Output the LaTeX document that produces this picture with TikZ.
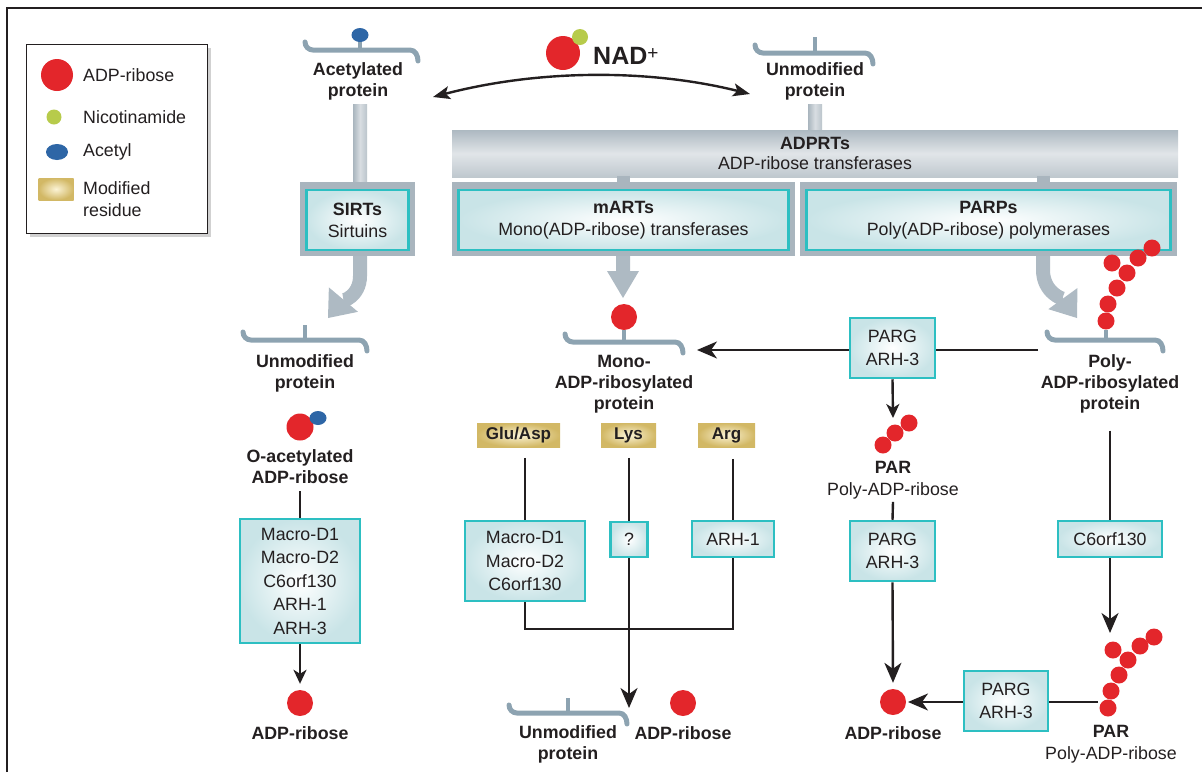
\documentclass[tikz,border=0pt]{standalone}
\usepackage{fontspec}
\setmainfont{Liberation Sans}
\usetikzlibrary{arrows.meta,shapes.geometric,calc}
\definecolor{adpred}{HTML}{E3262B}
\definecolor{nicgreen}{HTML}{B7CB4B}
\definecolor{acblue}{HTML}{2E66A6}
\definecolor{goldd}{HTML}{D2B865}
\definecolor{goldl}{HTML}{FBF3D5}
\definecolor{tealb}{HTML}{2DBFC2}
\definecolor{cyanf}{HTML}{C9E4E7}
\definecolor{framegrey}{HTML}{A9B5BE}
\definecolor{protgrey}{HTML}{8DA3B1}
\definecolor{arrgrey}{HTML}{AEBAC3}
\definecolor{ink}{HTML}{231F20}
\newcommand\protbr[5]{%
  \draw[prot] (#1,#3-8) to[out=-90,in=180] (#1+8,#3) -- (#2-8,#3) to[out=0,in=90] (#2,#3+11);
  \draw[prot,line cap=butt,line width=4pt] (#4,#3) -- (#4,#5);}
\begin{document}
\begin{tikzpicture}[x=1pt,y=-1pt,
  lab/.style={font=\fontsize{17.8}{21}\selectfont\bfseries, align=center, inner sep=0pt, text=ink},
  plain/.style={font=\fontsize{17.8}{21.5}\selectfont, align=center, inner sep=0pt, text=ink},
  enz/.style={draw=tealb, line width=2.5pt, inner color=white, outer color=cyanf, align=center,
              font=\fontsize{17.8}{23.5}\selectfont, inner sep=0pt, text=ink},
  fam/.style={enz, font=\fontsize{17.8}{22}\selectfont},
  frm/.style={fill=framegrey, inner sep=0pt},
  res/.style={inner color=goldl, outer color=goldd, font=\fontsize{17}{20}\selectfont\bfseries,
              inner sep=0pt, minimum height=24pt, text=ink},
  ln/.style={line width=2.4pt, draw=ink},
  arr/.style={ln, -{Stealth[length=14pt,width=13pt,inset=4pt]}},
  bigarr/.style={ln, -{Stealth[length=20pt,width=17pt,inset=6pt]}},
  prot/.style={line width=5pt, protgrey, line cap=round},
  ball/.style={circle, fill=adpred, inner sep=0pt, minimum size=26pt},
  bead/.style={circle, fill=adpred, inner sep=0pt, minimum size=17pt},
  greyarr/.style={line width=14pt, arrgrey},
  stem/.style={left color=framegrey, right color=framegrey!80, middle color=framegrey!45},
]
\useasboundingbox (0,0) rectangle (1202,772);
% outer frame
\draw[line width=2.2pt, ink] (7,772) -- (7,8) -- (1202,8);

% ---------- legend ----------
\fill[black!18] (30,48) rectangle (211,237);
\draw[line width=1pt, ink, fill=white] (26,44) rectangle (207,233);
\node[ball, minimum size=32pt] (lgadp) at (57,75) {};
\node[circle, fill=nicgreen, minimum size=15pt, inner sep=0pt] (lgnic) at (54,117) {};
\node[ellipse, fill=acblue, minimum width=22pt, minimum height=16pt, inner sep=0pt] (lgac) at (57,152) {};
\node[res, minimum width=35pt, minimum height=22pt] (lgres) at (56,189) {};
\node[plain, anchor=west] (lgt1) at (83,75) {ADP-ribose};
\node[plain, anchor=west] (lgt2) at (83,117) {Nicotinamide};
\node[plain, anchor=west] (lgt3) at (83,152) {Acetyl};
\node[plain, anchor=west, align=left] (lgt4) at (83,199) {Modified\\residue};

% ---------- top row ----------
\protbr{305}{418}{50}{360}{40}
\node[ellipse, fill=acblue, minimum width=17pt, minimum height=14pt, inner sep=0pt] (acetyl) at (360,35) {};
\node[lab] (acet) at (358,81) {Acetylated\\protein};
\protbr{755}{873}{53}{815}{37}
\node[lab] (unmodT) at (815,81) {Unmodified\\protein};
\node[ball, minimum size=34pt] (nadr) at (563,53) {};
\node[circle, fill=nicgreen, minimum size=16pt, inner sep=0pt] (nadg) at (580,37) {};
\node[font=\fontsize{25}{30}\selectfont\bfseries, inner sep=0pt, anchor=west, text=ink] (nadt) at (593,56)
  {NAD\raisebox{5pt}{\fontsize{19}{20}\selectfont\mdseries +}};
\coordinate (dblL) at (433,97);
\coordinate (dblR) at (750,94);
\draw[ln, {Stealth[length=17pt,width=13pt,inset=4pt]}-{Stealth[length=17pt,width=13pt,inset=4pt]}]
  (dblL) .. controls (540,69) and (650,69) .. (dblR);

% stems and ADPRT bar
\shade[stem] (353,104) rectangle (367,183);
\shade[stem] (808,104) rectangle (822,131);
\node[top color=framegrey!95, bottom color=framegrey!75, middle color=framegrey!35,
      minimum width=726pt, minimum height=47pt, inner sep=0pt, align=center,
      font=\fontsize{17.8}{20.5}\selectfont, text=ink] (adprt) at (815,153.5)
      {\textbf{ADPRTs}\\ADP-ribose transferases};
\fill[framegrey] (617,176) rectangle (630,184);
\fill[framegrey] (1037,176) rectangle (1050,184);

% enzyme family boxes
\node[frm, minimum width=115pt, minimum height=74pt] (sirtF) at (357.5,219) {};
\node[fam, minimum width=102pt, minimum height=60pt] (sirt) at (357.5,220) {\textbf{SIRTs}\\Sirtuins};
\node[frm, minimum width=343pt, minimum height=74pt] (martF) at (623.5,219) {};
\node[fam, minimum width=330pt, minimum height=60pt] (mart) at (623.5,220) {\textbf{mARTs}\\Mono(ADP-ribose) transferases};
\node[frm, minimum width=377pt, minimum height=74pt] (parpF) at (988.5,219) {};
\node[fam, minimum width=364pt, minimum height=60pt] (parp) at (988.5,220) {\textbf{PARPs}\\Poly(ADP-ribose) polymerases};

% grey arrows
\coordinate (sirtTip) at (328,318);
\draw[greyarr, -{Triangle[length=24pt,width=38pt,line width=0pt]}]
  (sirtF.south -| 360,0) -- (360,276) to[out=-90,in=50] (sirtTip);
\fill[arrgrey] (616,256) -- (630,256) -- (630,271) -- (639,271) -- (623,298) -- (607,271) -- (616,271) -- cycle;
\coordinate (parpTip) at (1077,318);
\draw[greyarr, -{Triangle[length=24pt,width=36pt,line width=0pt]}]
  (parpF.south -| 1043,0) -- (1043,270) to[out=-90,in=126] (parpTip);

% ---------- left column ----------
\protbr{243}{367}{340}{305}{325}
\node[lab] (unmodL) at (305,373) {Unmodified\\protein};
\node[ball, minimum size=27pt] (oacB) at (300,427) {};
\node[ellipse, fill=acblue, minimum width=17pt, minimum height=14pt, inner sep=0pt] (oacA) at (318,418) {};
\node[lab] (oacL) at (300,467) {O-acetylated\\ADP-ribose};
\node[enz, minimum width=120pt, minimum height=124pt] (macL) at (300,581)
  {Macro-D1\\Macro-D2\\C6orf130\\ARH-1\\ARH-3};
\draw[ln] ([yshift=-7pt]oacL.south) -- (macL.north);
\node[ball] (adpL) at (300,703) {};
\draw[arr] (macL.south) -- ([yshift=6pt]adpL.north);
\node[lab] (adpLt) at (300,733) {ADP-ribose};

% ---------- middle column ----------
\node[ball] (monoB) at (624,317) {};
\protbr{565}{683}{342}{624}{330}
\node[lab] (monoL) at (624,384) {Mono-\\ADP-ribosylated\\protein};
\node[res, minimum width=83pt] (glu) at (518.5,435) {Glu/Asp};
\node[res, minimum width=55pt] (lys) at (628.5,435) {Lys};
\node[res, minimum width=57pt] (argr) at (726.5,435) {Arg};
\node[enz, minimum width=120pt, minimum height=80pt] (macM) at (525,561) {Macro-D1\\Macro-D2\\C6orf130};
\node[enz, minimum width=37pt, minimum height=35pt] (qm) at (629,539.5) {?};
\node[enz, minimum width=82pt, minimum height=36pt] (arh1) at (733,539) {ARH-1};
\draw[ln] ([yshift=62pt]macM.north) -- (macM.north);
\draw[ln] ([yshift=63pt]qm.north) -- (qm.north);
\draw[ln] ([yshift=61pt]arh1.north) -- (arh1.north);
\coordinate (jn) at (629,629);
\draw[ln] (macM.south) |- (jn) -| (arh1.south);
\coordinate (lysEnd) at (629,708);
\draw[bigarr] (qm.south) -- (lysEnd);
\protbr{509}{627}{713}{568}{698}
\node[lab] (unmodB) at (568,744) {Unmodified\\protein};
\node[ball] (adpM) at (683,703) {};
\node[lab] (adpMt) at (683,733) {ADP-ribose};

% ---------- right columns ----------
\coordinate (polyW) at (1038,350);
\coordinate (monoE) at (697,350);
\draw[bigarr] (polyW) -- (monoE);
\node[enz, minimum width=85pt, minimum height=60pt] (parg1) at (892.5,348) {PARG\\ARH-3};
\coordinate (parTop) at (893,418);
\draw[arr] (parg1.south) -- (parTop);
\node[bead] (pb1) at (883,445) {};
\node[bead] (pb2) at (895,433) {};
\node[bead] (pb3) at (909,423) {};
\node[plain] (parM) at (893,480) {\textbf{PAR}\\Poly-ADP-ribose};
\node[enz, minimum width=85pt, minimum height=60pt] (parg2) at (892.5,551) {PARG\\ARH-3};
\draw[ln] ([yshift=-3pt]parM.south) -- (parg2.north);
\node[ball] (adpR) at (893,702) {};
\draw[bigarr] (parg2.south) -- ([yshift=6pt]adpR.north);
\node[lab] (adpRt) at (893,733) {ADP-ribose};

% poly-ADP-ribosylated protein
\protbr{1047}{1163}{340}{1106}{330}
\foreach \px/\py [count=\i] in {1106/321,1108/304,1117/288,1127/273,1138/258,1152/248,1112/263}
  \node[bead] (ppb\i) at (\px,\py) {};
\node[lab] (polyL) at (1110,384) {Poly-\\ADP-ribosylated\\protein};
\node[enz, minimum width=104pt, minimum height=36pt] (c6) at (1110,539) {C6orf130};
\draw[ln] ([yshift=-17pt]polyL.south) -- (c6.north);
\coordinate (parBTop) at (1110,633);
\draw[bigarr] (c6.south) -- (parBTop);
\foreach \px/\py [count=\i] in {1108/708,1111/691,1119/675,1128/660,1140/646,1154/637,1113/650}
  \node[bead] (pcb\i) at (\px,\py) {};
\coordinate (parBW) at (1098,702);
\coordinate (adpRE) at (908,702);
\draw[bigarr] (parBW) -- (adpRE);
\node[enz, minimum width=84pt, minimum height=60pt] (parg3) at (1006,701) {PARG\\ARH-3};
\node[plain] (parB) at (1111,744) {\textbf{PAR}\\Poly-ADP-ribose};
\end{tikzpicture}
\end{document}
